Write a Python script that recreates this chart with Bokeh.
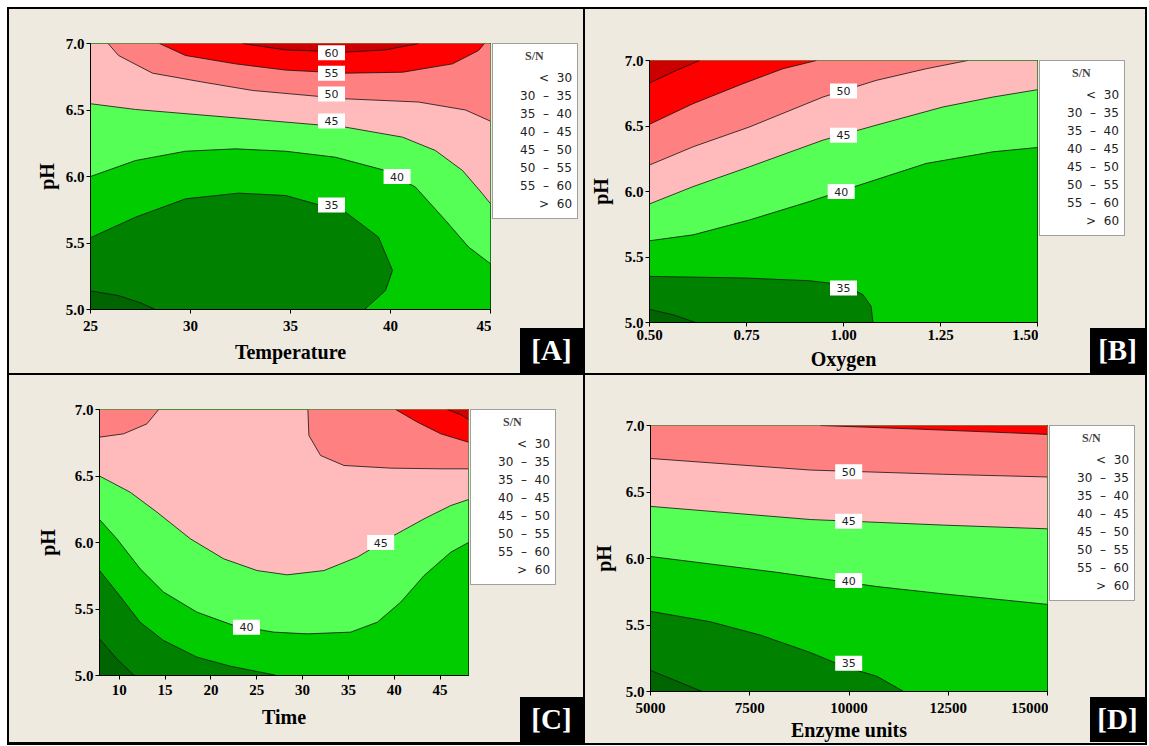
from bokeh.plotting import figure
from bokeh.models import Range1d, FixedTicker, PrintfTickFormatter, Legend, LegendItem, Div
from bokeh.layouts import row, column
from bokeh.embed import file_html
from bokeh.resources import INLINE
from bokeh.core.properties import value

NB = "\u00a0"
BG = "#EEEAE0"

# ---------------- shared legend data ----------------
band_labels = [NB * 5 + "<" + NB * 2 + "30",
               "30" + NB * 2 + "\u2013" + NB * 2 + "35",
               "35" + NB * 2 + "\u2013" + NB * 2 + "40",
               "40" + NB * 2 + "\u2013" + NB * 2 + "45",
               "45" + NB * 2 + "\u2013" + NB * 2 + "50",
               "50" + NB * 2 + "\u2013" + NB * 2 + "55",
               "55" + NB * 2 + "\u2013" + NB * 2 + "60",
               NB * 5 + ">" + NB * 2 + "60"]
band_colors = ["#006400", "#008200", "#00CC00", "#55FF55",
               "#FFBBBB", "#FF8080", "#FF0000", "#CC0000"]
levels = [30, 35, 40, 45, 50, 55, 60]
ph_ticks = [5.0, 5.5, 6.0, 6.5, 7.0]

# ---------------- Panel A: Temperature ----------------
A_xrange = (25, 45)
A_xticks = [25, 30, 35, 40, 45]
A_30_x = [25.0, 26.4, 27.5, 28.25]
A_30_y = [5.14, 5.105, 5.05, 5.0]
A_35_x = [25.0, 27.25, 29.75, 32.4, 34.75, 37.75, 39.4, 40.1, 39.75, 38.7]
A_35_y = [5.54, 5.694, 5.832, 5.875, 5.857, 5.732, 5.544, 5.293, 5.143, 5.0]
A_40_x = [25.0, 27.25, 29.75, 32.25, 34.75, 37.25, 39.75, 41.25, 42.75, 43.9, 45.0]
A_40_y = [6.0, 6.12, 6.19, 6.208, 6.19, 6.145, 6.045, 5.92, 5.67, 5.47, 5.344]
A_45_x = [25.0, 27.25, 32.25, 37.75, 40.6, 42.25, 43.6, 44.6, 45.0]
A_45_y = [6.547, 6.504, 6.441, 6.371, 6.296, 6.195, 6.045, 5.87, 5.795]
A_50_x = [25.88, 26.4, 28.1, 30.6, 33.1, 37.75, 41.4, 43.75, 45.0]
A_50_y = [7.0, 6.91, 6.777, 6.71, 6.647, 6.584, 6.56, 6.50, 6.416]
A_55_x = [28.45, 29.75, 32.25, 34.75, 37.75, 40.6, 43.1, 44.4, 44.7]
A_55_y = [7.0, 6.91, 6.847, 6.80, 6.777, 6.784, 6.847, 6.947, 7.0]
A_60_x = [32.6, 34.75, 37.75, 39.75, 41.4]
A_60_y = [7.0, 6.952, 6.935, 6.952, 7.0]
A_lab_x = [37.05, 37.05, 37.05, 37.05, 40.33, 37.05]
A_lab_y = [6.93, 6.777, 6.62, 6.417, 6.0, 5.785]
A_lab_t = ["60", "55", "50", "45", "40", "35"]

# ---------------- Panel B: Oxygen ----------------
B_xrange = (0.5, 1.5)
B_xticks = [0.5, 0.75, 1.0, 1.25, 1.5]
B_30_x = [0.5, 0.56, 0.619]
B_30_y = [5.10, 5.06, 5.0]
B_35_x = [0.5, 0.741, 0.912, 0.998, 1.05, 1.071, 1.076]
B_35_y = [5.352, 5.34, 5.319, 5.289, 5.213, 5.124, 5.0]
B_40_x = [0.5, 0.612, 0.758, 0.912, 1.041, 1.213, 1.385, 1.5]
B_40_y = [5.624, 5.669, 5.783, 5.923, 6.049, 6.214, 6.303, 6.336]
B_45_x = [0.5, 0.612, 0.758, 0.947, 1.084, 1.256, 1.385, 1.5]
B_45_y = [5.905, 6.037, 6.189, 6.392, 6.506, 6.645, 6.721, 6.777]
B_50_x = [0.5, 0.612, 0.758, 0.947, 1.084, 1.213, 1.32]
B_50_y = [6.202, 6.341, 6.493, 6.721, 6.848, 6.937, 7.0]
B_55_x = [0.5, 0.612, 0.741, 0.844, 0.93]
B_55_y = [6.513, 6.67, 6.823, 6.937, 7.0]
B_60_x = [0.5, 0.569, 0.629]
B_60_y = [6.828, 6.924, 7.0]
B_lab_x = [1.0, 1.0, 0.994, 1.0]
B_lab_y = [6.767, 6.43, 6.0, 5.264]
B_lab_t = ["50", "45", "40", "35"]

# ---------------- Panel C: Time ----------------
C_xrange = (7.85, 48.1)
C_xticks = [10, 15, 20, 25, 30, 35, 40, 45]
C_30_x = [7.85, 9.74, 11.57, 11.75]
C_30_y = [5.276, 5.125, 5.005, 5.0]
C_35_x = [7.85, 9.74, 12.29, 14.84, 18.49, 22.13, 26.87, 27.1]
C_35_y = [5.79, 5.627, 5.40, 5.263, 5.138, 5.07, 5.005, 5.0]
C_40_x = [7.85, 9.74, 12.29, 14.84, 18.49, 22.5, 26.87, 30.5, 35.25, 38.16, 40.7, 43.26, 46.17, 48.1]
C_40_y = [6.173, 6.028, 5.802, 5.627, 5.476, 5.376, 5.326, 5.313, 5.326, 5.401, 5.551, 5.752, 5.927, 6.0]
C_45_x = [7.85, 11.2, 14.12, 17.76, 21.4, 25.04, 28.32, 32.33, 35.97, 39.62, 43.26, 46.17, 48.1]
C_45_y = [6.50, 6.378, 6.228, 6.028, 5.877, 5.789, 5.757, 5.789, 5.89, 6.04, 6.178, 6.278, 6.323]
C_50a_x = [7.85, 10.47, 13.02, 14.3]
C_50a_y = [6.792, 6.817, 6.892, 7.0]
C_50b_x = [30.58, 30.69, 31.97, 34.52, 39.62, 45.08, 48.1]
C_50b_y = [7.0, 6.805, 6.654, 6.579, 6.559, 6.554, 6.554]
C_55_x = [40.16, 42.53, 45.08, 48.1]
C_55_y = [7.0, 6.905, 6.817, 6.754]
C_60_x = [45.81, 47.27, 48.1]
C_60_y = [7.0, 6.96, 6.925]
C_lab_x = [38.52, 23.88]
C_lab_y = [6.0, 5.363]
C_lab_t = ["45", "40"]

# ---------------- Panel D: Enzyme units ----------------
D_xrange = (5000, 15000)
D_xticks = [5000, 7500, 10000, 12500, 15000]
D_30_x = [5000, 5671, 6300]
D_30_y = [5.159, 5.077, 5.0]
D_35_x = [5000, 6510, 7768, 9027, 9866, 10705, 11376]
D_35_y = [5.603, 5.524, 5.424, 5.293, 5.189, 5.114, 5.0]
D_40_x = [5000, 8188, 10705, 12382, 15000]
D_40_y = [6.015, 5.896, 5.789, 5.734, 5.655]
D_45_x = [5000, 9027, 12382, 15000]
D_45_y = [6.392, 6.293, 6.251, 6.223]
D_50_x = [5000, 9027, 12382, 15000]
D_50_y = [6.752, 6.665, 6.633, 6.613]
D_55_x = [9278, 11544, 14060, 15000]
D_55_y = [7.0, 6.975, 6.945, 6.933]
D_lab_x = [9992, 9992, 9992, 9992]
D_lab_y = [6.653, 6.28, 5.834, 5.213]
D_lab_t = ["50", "45", "40", "35"]

# contour segments: (level, xs, ys, boundary corners that close the "higher" side)
A_contours = [(30, A_30_x, A_30_y, ["BR", "TR", "TL"]),
              (35, A_35_x, A_35_y, ["BR", "TR", "TL"]),
              (40, A_40_x, A_40_y, ["TR", "TL"]),
              (45, A_45_x, A_45_y, ["TR", "TL"]),
              (50, A_50_x, A_50_y, ["TR"]),
              (55, A_55_x, A_55_y, []),
              (60, A_60_x, A_60_y, [])]
B_contours = [(30, B_30_x, B_30_y, ["BR", "TR", "TL"]),
              (35, B_35_x, B_35_y, ["BR", "TR", "TL"]),
              (40, B_40_x, B_40_y, ["TR", "TL"]),
              (45, B_45_x, B_45_y, ["TR", "TL"]),
              (50, B_50_x, B_50_y, ["TL"]),
              (55, B_55_x, B_55_y, ["TL"]),
              (60, B_60_x, B_60_y, ["TL"])]
C_contours = [(30, C_30_x, C_30_y, ["BR", "TR", "TL"]),
              (35, C_35_x, C_35_y, ["BR", "TR", "TL"]),
              (40, C_40_x, C_40_y, ["TR", "TL"]),
              (45, C_45_x, C_45_y, ["TR", "TL"]),
              (50, C_50a_x, C_50a_y, ["TL"]),
              (50, C_50b_x, C_50b_y, ["TR"]),
              (55, C_55_x, C_55_y, ["TR"]),
              (60, C_60_x, C_60_y, ["TR"])]
D_contours = [(30, D_30_x, D_30_y, ["BR", "TR", "TL"]),
              (35, D_35_x, D_35_y, ["BR", "TR", "TL"]),
              (40, D_40_x, D_40_y, ["TR", "TL"]),
              (45, D_45_x, D_45_y, ["TR", "TL"]),
              (50, D_50_x, D_50_y, ["TR", "TL"]),
              (55, D_55_x, D_55_y, ["TR"])]

SERIF = "Liberation Serif"
SANS = "DejaVu Sans"


def make_main(fw, fh, bl, bt, bb, xr, xticks, xfmt, xlabel, contours,
              lab_x, lab_y, lab_t, x_std, xl_std, yl_std):
    yr = (ph_ticks[0], ph_ticks[-1])
    p = figure(width=None, height=None, frame_width=fw, frame_height=fh,
               x_range=Range1d(*xr), y_range=Range1d(*yr), title=None,
               min_border_left=bl, min_border_right=1,
               min_border_top=bt, min_border_bottom=bb,
               output_backend="svg", toolbar_location=None, tools="")
    p.background_fill_color = band_colors[0]
    p.border_fill_color = BG
    p.outline_line_color = "black"
    p.outline_line_width = 1
    p.xgrid.visible = False
    p.ygrid.visible = False

    corner = {"TL": (xr[0], yr[1]), "TR": (xr[1], yr[1]),
              "BR": (xr[1], yr[0]), "BL": (xr[0], yr[0])}
    for lev, xs, ys, cs in contours:
        px = list(xs) + [corner[c][0] for c in cs]
        py = list(ys) + [corner[c][1] for c in cs]
        p.patch(px, py, fill_color=band_colors[levels.index(lev) + 1], line_color=None)
    for lev, xs, ys, cs in contours:
        p.line(xs, ys, line_color="#111111", line_width=0.8)

    p.rect(x=lab_x, y=lab_y, width=27, height=15, width_units="screen",
           height_units="screen", fill_color="white", line_color=None)
    p.text(x=lab_x, y=lab_y, text=lab_t, text_align="center", text_baseline="middle",
           text_font=value(SANS), text_font_size="11px", text_color="#222222")

    p.xaxis.ticker = FixedTicker(ticks=xticks)
    p.xaxis.formatter = PrintfTickFormatter(format=xfmt)
    p.yaxis.ticker = FixedTicker(ticks=ph_ticks)
    p.yaxis.formatter = PrintfTickFormatter(format="%.1f")
    p.xaxis.axis_label = xlabel
    p.yaxis.axis_label = "pH"
    for ax in (p.xaxis[0], p.yaxis[0]):
        ax.axis_line_color = "black"
        ax.major_tick_line_color = "black"
        ax.major_tick_in = 0
        ax.major_tick_out = 4
        ax.minor_tick_line_color = None
        ax.major_label_text_font = SERIF
        ax.major_label_text_font_style = "bold"
        ax.major_label_text_font_size = "15px"
        ax.major_label_text_color = "black"
        ax.axis_label_text_font = SERIF
        ax.axis_label_text_font_style = "bold"
        ax.axis_label_text_font_size = "20px"
        ax.axis_label_text_color = "black"
    p.xaxis.major_label_standoff = x_std
    p.xaxis.axis_label_standoff = xl_std
    p.yaxis.major_label_standoff = 2
    p.yaxis.axis_label_standoff = yl_std
    return p


def make_side(sw, h, bt, tag, box_w):
    tag_h = 45
    s = figure(width=sw, height=h - tag_h, x_range=Range1d(0, 1), y_range=Range1d(0, 1),
               title=None, min_border_left=1, min_border_right=0,
               min_border_top=bt, min_border_bottom=0,
               x_axis_location=None, y_axis_location=None,
               output_backend="svg", toolbar_location=None, tools="")
    s.background_fill_color = BG
    s.border_fill_color = BG
    s.outline_line_color = None
    s.grid.visible = False

    items = []
    for lab, col in zip(band_labels, band_colors):
        r = s.quad(left=[], right=[], top=[], bottom=[], fill_color=col, line_color=None)
        items.append(LegendItem(label=lab, renderers=[r]))
    leg = Legend(items=items, title=NB * 9 + "S/N", location="top_left",
                 margin=0, padding=5, spacing=0, label_height=18,
                 glyph_height=13, glyph_width=16, label_standoff=6,
                 label_text_font=SANS, label_text_font_size="12px",
                 label_text_color="#222222",
                 title_text_font=SERIF, title_text_font_style="bold",
                 title_text_font_size="12px", title_standoff=5,
                 border_line_color="#404040", border_line_width=1,
                 background_fill_color="white", background_fill_alpha=1.0)
    s.add_layout(leg)

    box = ('<div style="position:absolute;left:%dpx;top:0px;width:%dpx;height:%dpx;'
           'background:#000;color:#fff;font-family:\'Liberation Serif\';font-weight:bold;'
           'font-size:29px;line-height:%dpx;text-align:center;">%s</div>'
           % (sw - box_w, box_w, tag_h, tag_h, tag))
    d = Div(text=box, width=sw, height=tag_h, margin=0,
            styles={"background-color": BG, "position": "relative"})
    return column(s, d, spacing=0, styles={"background-color": BG})


pA = make_main(400, 266, 81, 34, 64, A_xrange, A_xticks, "%d", "Temperature",
               A_contours, A_lab_x, A_lab_y, A_lab_t, 7, 7, 5)
sA = make_side(92, 364, 34, "[A]", 63)
pB = make_main(388, 262, 64, 51, 51, B_xrange, B_xticks, "%.2f", "Oxygen",
               B_contours, B_lab_x, B_lab_y, B_lab_t, 3, 5, 10)
sB = make_side(107, 364, 51, "[B]", 55)
pC = make_main(369, 266, 90, 34, 67, C_xrange, C_xticks, "%d", "Time",
               C_contours, C_lab_x, C_lab_y, C_lab_t, 5, 8, 13)
sC = make_side(114, 367, 34, "[C]", 63)
pD = make_main(397, 266, 65, 50, 51, D_xrange, D_xticks, "%d", "Enzyme units",
               D_contours, D_lab_x, D_lab_y, D_lab_t, 7, 3, 8)
sD = make_side(97, 367, 50, "[D]", 55)

layout = column(row(row(pA, sA, styles={"background-color": BG}),
                    row(pB, sB, styles={"background-color": BG}), spacing=2),
                row(row(pC, sC, styles={"background-color": BG}),
                    row(pD, sD, styles={"background-color": BG}), spacing=2),
                spacing=2,
                styles={"background-color": "black", "padding": "2px",
                        "margin": "7px 0 0 7px"})

open("out.html", "w").write(file_html(layout, INLINE))
